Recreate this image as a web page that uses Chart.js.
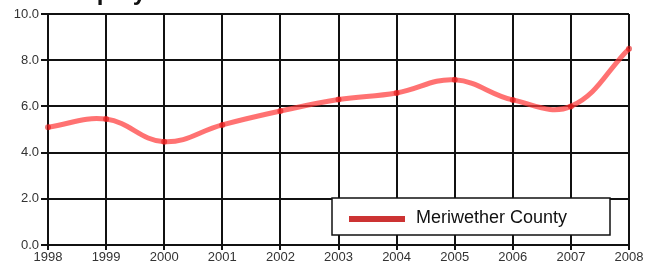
<!DOCTYPE html>
<html>
<head>
<meta charset="utf-8">
<script src="https://cdn.jsdelivr.net/npm/chart.js@4"></script>
<style>
  html, body { margin: 0; padding: 0; background: #fff; }
  #wrap { width: 653px; height: 269px; position: relative; }
</style>
</head>
<body>
<div id="wrap"><canvas id="chart"></canvas></div>
<script>
  /* ── Data ─────────────────────────────────────────────── */
  var years = ["1998", "1999", "2000", "2001", "2002", "2003", "2004", "2005", "2006", "2007", "2008"];
  var meriwether = [5.1, 5.45, 4.47, 5.2, 5.8, 6.3, 6.58, 7.15, 6.28, 6.0, 8.5];
  var seriesLabel = "Meriwether County";
  var chartTitle = "Unemployment Rate Trends";

  /* ── Title (cut off at top) + boxed legend ────────────── */
  var decor = {
    id: "decor",
    afterDraw: function (chart) {
      var ctx = chart.ctx;
      ctx.save();
      ctx.fillStyle = "#111";
      ctx.font = "bold 24px 'Liberation Sans', Arial, sans-serif";
      ctx.textBaseline = "alphabetic";
      ctx.textAlign = "left";
      ctx.fillText(chartTitle, 30, -0.3);

      // legend box
      ctx.fillStyle = "#fff";
      ctx.fillRect(332, 198, 278, 37);
      ctx.strokeStyle = "#111";
      ctx.lineWidth = 1.5;
      ctx.strokeRect(332, 198, 278, 37);
      ctx.strokeStyle = "#cc3333";
      ctx.lineWidth = 6;
      ctx.beginPath();
      ctx.moveTo(349, 219);
      ctx.lineTo(405, 219);
      ctx.stroke();
      ctx.fillStyle = "#111";
      ctx.font = "18px 'Liberation Sans', Arial, sans-serif";
      ctx.textBaseline = "middle";
      ctx.fillText(seriesLabel, 416, 218);
      ctx.restore();
    }
  };

  new Chart(document.getElementById("chart"), {
    type: "line",
    data: {
      labels: years,
      datasets: [{
        label: seriesLabel,
        data: meriwether,
        borderColor: "rgba(255,60,60,0.72)",
        backgroundColor: "rgba(225,20,20,0.6)",
        borderWidth: 5,
        pointRadius: 3,
        pointBorderWidth: 0,
        tension: 0.4,
        fill: false
      }]
    },
    options: {
      responsive: true,
      maintainAspectRatio: false,
      animation: false,
      layout: { padding: { top: 14, right: 24, left: 0, bottom: 0 } },
      plugins: { legend: { display: false }, title: { display: false }, tooltip: { enabled: false } },
      scales: {
        x: {
          offset: false,
          grid: { color: "#111", lineWidth: 2, tickLength: 5, drawOnChartArea: true },
          border: { color: "#111", width: 2 },
          ticks: { color: "#333", font: { family: "'Liberation Sans', Arial, sans-serif", size: 13 }, maxRotation: 0, autoSkip: false, padding: 0 },
          afterFit: function (s) { s.height = 24; }
        },
        y: {
          min: 0,
          max: 10,
          grid: { color: "#111", lineWidth: 2, tickLength: 7 },
          border: { color: "#111", width: 2 },
          ticks: {
            stepSize: 2,
            color: "#333",
            padding: 2,
            font: { family: "'Liberation Sans', Arial, sans-serif", size: 13 },
            callback: function (v) { return v.toFixed(1); }
          },
          afterFit: function (s) { s.width = 48; }
        }
      }
    },
    plugins: [decor]
  });
</script>
</body>
</html>
